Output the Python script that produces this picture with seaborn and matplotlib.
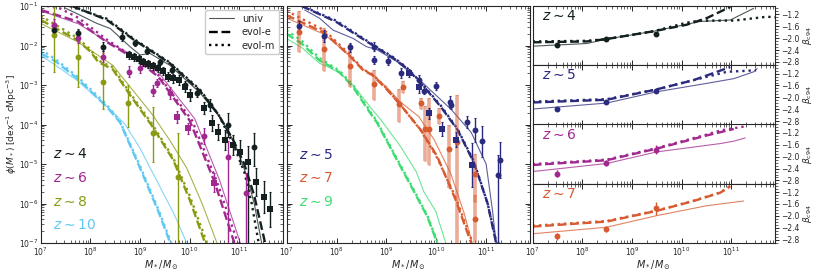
import numpy as np
import matplotlib.pyplot as plt
import matplotlib.ticker as mticker
from matplotlib.colors import to_rgba
from matplotlib.lines import Line2D
import seaborn as sns

sns.set_style("ticks")
plt.rcParams["font.family"] = ["DejaVu Sans"]
plt.rcParams["mathtext.fontset"] = "dejavusans"

# redshift colours
c4, c5, c6, c7 = "#142020", "#2a2a7e", "#a0288e", "#d85a30"
c8, c9, c10 = "#8a9a12", "#3fdc72", "#5ec8f2"

# ---- SMF model curves (log10 M, log10 phi) ----
m4_u = [7.49, 7.79, 8.13, 8.40, 8.80, 9.00, 9.20, 9.60, 10.21, 10.60, 10.90, 11.15, 11.30, 11.45]
p4_u = [-1.05, -1.23, -1.44, -1.57, -2.03, -2.24, -2.20, -2.50, -3.20, -3.80, -4.45, -5.30, -6.00, -7.00]
m4_e = [7.63, 8.33, 8.87, 9.20, 9.60, 10.21, 10.58, 10.88, 11.10, 11.30, 11.52]
p4_e = [-1.00, -1.35, -1.85, -2.12, -2.45, -3.15, -3.75, -4.40, -5.00, -5.80, -7.00]
m4_m = [7.58, 8.33, 8.87, 9.20, 9.60, 10.21, 10.58, 10.88, 11.10, 11.25, 11.39]
p4_m = [-1.00, -1.32, -1.83, -2.10, -2.43, -3.12, -3.75, -4.50, -5.20, -6.00, -7.00]

m6_u = [7.00, 7.76, 8.33, 8.94, 9.37, 10.10, 10.60, 11.02]
p6_u = [-1.12, -1.45, -1.90, -2.30, -2.68, -3.85, -5.40, -7.00]
m6_e = [7.00, 7.76, 8.33, 8.94, 9.37, 10.00, 10.50, 10.90]
p6_e = [-1.10, -1.40, -1.91, -2.37, -2.79, -3.90, -5.45, -7.00]
m6_m = [7.00, 7.39, 7.76, 8.33, 8.94, 9.37, 10.05, 10.55, 10.97]
p6_m = [-0.97, -1.06, -1.30, -1.85, -2.35, -2.75, -3.90, -5.45, -7.00]

m8_u = [7.00, 7.73, 8.16, 8.45, 8.77, 9.25, 9.60, 9.94, 10.25, 10.55]
p8_u = [-1.44, -1.90, -2.25, -2.50, -3.00, -3.75, -4.40, -5.10, -6.00, -7.00]
m8_e = [7.00, 7.73, 8.00, 8.16, 8.45, 8.77, 9.25, 9.67, 10.00, 10.31]
p8_e = [-1.35, -1.86, -2.15, -2.42, -2.60, -3.20, -4.05, -4.90, -5.90, -7.00]
m8_m = [7.00, 7.73, 8.00, 8.16, 8.45, 8.77, 9.25, 9.67, 10.00, 10.35]
p8_m = [-1.25, -1.80, -2.10, -2.38, -2.55, -3.15, -4.00, -4.85, -5.80, -7.00]

m10_u = [7.00, 7.30, 7.75, 8.20, 8.47, 8.70, 9.00, 9.37, 9.70, 9.94]
p10_u = [-2.25, -2.50, -2.90, -3.40, -3.70, -4.00, -4.60, -5.50, -6.30, -7.00]
m10_e = [7.00, 7.30, 7.75, 8.33, 8.60, 9.00, 9.37, 9.61]
p10_e = [-2.20, -2.40, -2.85, -3.55, -3.95, -5.10, -6.20, -7.00]
m10_m = [7.00, 7.30, 7.75, 8.33, 8.60, 9.00, 9.37, 9.63]
p10_m = [-2.10, -2.35, -2.80, -3.50, -3.93, -5.05, -6.15, -7.00]

m5_u = [7.36, 7.66, 7.93, 8.33, 8.60, 8.80, 9.20, 9.69, 10.30, 10.70, 11.00, 11.13, 11.20]
p5_u = [-1.10, -1.31, -1.61, -1.82, -2.03, -2.10, -2.40, -2.90, -3.62, -4.20, -5.00, -6.20, -7.00]
m5_e = [7.30, 7.99, 8.67, 9.14, 9.40, 9.69, 10.09, 10.43, 10.76, 11.03, 11.20]
p5_e = [-1.00, -1.40, -1.95, -2.32, -2.57, -2.95, -3.55, -4.14, -4.98, -6.00, -7.00]
m5_m = [7.25, 7.99, 8.67, 9.14, 9.40, 9.69, 10.09, 10.43, 10.76, 11.03, 11.21]
p5_m = [-0.97, -1.37, -1.93, -2.30, -2.55, -2.93, -3.52, -4.12, -4.95, -6.00, -7.00]

m7_u = [6.99, 7.76, 8.26, 8.53, 8.73, 9.00, 9.28, 9.65, 9.96, 10.29, 10.56, 10.72]
p7_u = [-1.30, -1.72, -2.26, -2.60, -2.74, -3.05, -3.43, -3.80, -4.39, -5.24, -6.25, -7.00]
m7_e = [6.99, 7.76, 8.26, 8.53, 8.73, 9.00, 9.28, 9.69, 10.02, 10.39, 10.70]
p7_e = [-1.23, -1.68, -2.26, -2.62, -2.76, -3.10, -3.50, -4.14, -4.81, -5.91, -7.00]
m7_m = [6.99, 7.76, 8.26, 8.53, 8.73, 9.00, 9.28, 9.69, 10.02, 10.39, 10.73]
p7_m = [-1.12, -1.62, -2.22, -2.60, -2.74, -3.08, -3.50, -4.15, -4.85, -5.85, -7.00]

m9_u = [6.99, 7.30, 7.66, 7.86, 8.06, 8.33, 8.67, 8.90, 9.28, 9.60, 9.75, 9.99, 10.19]
p9_u = [-1.82, -2.05, -2.45, -2.56, -2.70, -3.00, -3.55, -3.90, -4.55, -5.20, -5.70, -6.20, -7.00]
m9_e = [6.99, 7.30, 7.66, 7.86, 8.06, 8.33, 8.67, 8.81, 9.14, 9.47, 9.82, 10.02]
p9_e = [-1.70, -1.95, -2.38, -2.52, -2.68, -3.05, -3.70, -3.95, -4.73, -5.50, -6.33, -7.00]
m9_m = [6.99, 7.30, 7.66, 7.86, 8.06, 8.33, 8.67, 8.81, 9.14, 9.47, 9.82, 10.03]
p9_m = [-1.61, -1.88, -2.32, -2.48, -2.64, -3.00, -3.66, -3.92, -4.70, -5.47, -6.30, -7.00]

# ---- SMF observations ----
m4c = [7.26, 7.75, 8.26, 8.63, 8.90, 9.14, 9.41, 9.64, 9.91, 10.15, 10.41, 10.78, 11.29]
p4c = [-1.61, -1.69, -2.03, -1.78, -1.93, -2.13, -2.41, -2.62, -3.00, -3.19, -3.51, -4.01, -4.56]
e4c_lo = [0.12, 0.12, 0.12, 0.10, 0.08, 0.08, 0.08, 0.08, 0.10, 0.12, 0.15, 0.30, 0.50]
e4c_hi = [0.12, 0.12, 0.12, 0.10, 0.08, 0.08, 0.08, 0.08, 0.10, 0.12, 0.15, 0.30, 0.35]
m4s = [8.77, 8.87, 8.97, 9.07, 9.17, 9.27, 9.37, 9.47, 9.57, 9.67, 9.78, 9.91, 10.01,
       10.28, 10.45, 10.58, 10.72, 10.88, 11.02, 11.17, 11.34, 11.49, 11.62]
p4s = [-2.24, -2.28, -2.35, -2.41, -2.47, -2.52, -2.58, -2.64, -2.79, -2.83, -2.87, -3.06, -3.25,
       -3.58, -3.97, -4.18, -4.39, -4.52, -4.69, -4.94, -5.45, -5.83, -6.15]
e4s_lo = [0.10, 0.10, 0.10, 0.10, 0.10, 0.10, 0.10, 0.10, 0.12, 0.12, 0.12, 0.12, 0.15,
          0.15, 0.20, 0.20, 0.25, 0.25, 0.30, 2.50, 0.35, 0.40, 0.45]
e4s_hi = [0.10, 0.10, 0.10, 0.10, 0.10, 0.10, 0.10, 0.10, 0.12, 0.12, 0.12, 0.12, 0.15,
          0.15, 0.20, 0.20, 0.25, 0.25, 0.30, 0.40, 0.35, 0.40, 0.45]

m6c = [7.26, 7.76, 8.26, 8.77, 8.99, 9.27, 9.34, 9.61, 10.28, 10.78, 11.14]
p6c = [-1.48, -1.82, -2.28, -2.66, -2.58, -3.14, -2.96, -3.20, -4.29, -4.83, -5.74]
e6c_lo = [0.15, 0.12, 0.15, 0.15, 0.12, 0.15, 0.10, 0.15, 0.20, 2.50, 2.00]
e6c_hi = [0.15, 0.12, 0.15, 0.15, 0.12, 0.15, 0.10, 0.15, 0.20, 0.40, 0.50]
m6s = [9.74, 9.96, 10.49]
p6s = [-3.80, -4.10, -5.47]
e6s = [0.15, 0.15, 0.25]

m8c = [7.26, 7.76, 8.26, 8.76, 9.26, 9.76]
p8c = [-1.73, -2.30, -2.92, -3.46, -4.22, -5.32]
e8c_lo = [0.93, 0.74, 0.68, 0.60, 0.72, 2.00]
e8c_hi = [0.71, 0.69, 0.72, 0.45, 0.67, 1.10]

m5c = [7.25, 7.74, 8.26, 8.75, 8.76, 9.04, 9.30, 9.65, 9.76, 9.99, 10.28, 10.30,
       10.61, 10.78, 10.92, 11.23, 11.28]
p5c = [-1.51, -1.76, -2.05, -2.03, -2.37, -2.39, -2.70, -2.87, -3.14, -3.02, -3.43, -3.51,
       -3.93, -4.14, -4.43, -5.28, -4.90]
e5c_lo = [0.12, 0.15, 0.12, 0.12, 0.10, 0.10, 0.12, 0.12, 0.10, 0.10, 0.15, 0.10,
          0.15, 0.30, 0.40, 1.70, 0.45]
e5c_hi = [0.12, 0.15, 0.12, 0.12, 0.10, 0.10, 0.12, 0.12, 0.10, 0.10, 0.15, 0.10,
          0.15, 0.30, 0.40, 0.50, 0.45]
m5s = [9.45, 9.65, 9.86, 10.11, 10.39, 10.71]
p5s = [-2.70, -3.06, -3.72, -4.12, -4.38, -5.03]
e5s = [0.10, 0.15, 0.15, 0.18, 0.20, 0.55]

m7c = [7.25, 7.74, 8.26, 8.76, 9.26, 9.34, 9.70, 9.77, 9.86, 10.06, 10.26, 10.41, 10.78, 10.78]
p7c = [-1.67, -2.10, -2.51, -2.98, -3.49, -3.04, -3.45, -4.12, -4.12, -3.78, -4.62, -4.45, -5.25, -6.38]
e7c_lo = [0.50, 0.55, 0.55, 0.40, 0.45, 0.15, 0.15, 0.80, 0.90, 0.20, 1.00, 2.60, 0.70, 0.60]
e7c_hi = [0.55, 0.55, 0.55, 0.35, 0.40, 0.15, 0.12, 0.60, 0.80, 0.20, 0.60, 1.20, 0.50, 0.60]

# ---- UV slope panels ----
mb_obs = [7.48, 8.48, 9.48]
b4_obs, b4_err = [-2.24, -2.03, -1.86], [0.03, 0.03, 0.03]
b5_obs, b5_err = [-2.39, -2.16, -1.77], [0.08, 0.05, 0.05]
b6_obs, b6_err = [-2.58, -2.20, -1.76], [0.12, 0.10, 0.15]
b7_obs, b7_err = [-2.69, -2.44, -1.75], [0.12, 0.10, 0.22]

mb4_u, b4_u = [7.0, 8.09, 8.49, 9.43, 10.37, 10.98, 11.45], [-2.27, -2.18, -2.03, -1.77, -1.44, -1.39, -1.00]
mb4_e, b4_e = [7.0, 8.09, 8.49, 9.43, 10.10, 10.50, 10.98], [-2.14, -2.11, -2.03, -1.77, -1.55, -1.33, -0.95]
mb4_m, b4_m = [7.0, 8.09, 8.49, 9.43, 10.10, 10.37, 11.05, 11.72, 11.89], [-2.11, -2.09, -2.03, -1.77, -1.48, -1.41, -1.41, -1.28, -1.30]
mb5_u, b5_u = [7.0, 8.49, 9.50, 10.50, 11.05, 11.45, 11.52], [-2.39, -2.19, -1.81, -1.53, -1.37, -1.14, -1.03]
mb5_e, b5_e = [7.0, 8.49, 9.50, 10.24, 10.98], [-2.17, -2.08, -1.73, -1.42, -0.98]
mb5_m, b5_m = [7.0, 8.49, 9.50, 10.24, 10.91, 11.50], [-2.14, -2.06, -1.73, -1.42, -1.14, -1.09]
mb6_u, b6_u = [7.0, 8.49, 9.50, 10.78, 11.05, 11.28], [-2.50, -2.23, -1.84, -1.56, -1.48, -1.37]
mb6_e, b6_e = [7.0, 8.49, 9.50, 10.50, 11.05], [-2.28, -2.12, -1.73, -1.29, -1.07]
mb6_m, b6_m = [7.0, 8.49, 9.50, 10.50, 10.78, 11.25], [-2.25, -2.10, -1.71, -1.26, -1.12, -0.99]
mb7_u, b7_u = [7.0, 8.49, 9.50, 10.50, 11.25], [-2.60, -2.38, -1.99, -1.66, -1.50]
mb7_e, b7_e = [7.0, 8.49, 9.50, 10.24, 10.78, 10.98], [-2.36, -2.19, -1.83, -1.50, -1.22, -1.00]
mb7_m, b7_m = [7.0, 8.49, 9.50, 10.24, 10.78, 10.98], [-2.33, -2.17, -1.82, -1.49, -1.21, -1.00]


W, H = 814, 274
fig = plt.figure(figsize=(W / 100, H / 100), dpi=100)


def add_ax(x0, y0, x1, y1):
    return fig.add_axes([x0 / W, 1 - y1 / H, (x1 - x0) / W, (y1 - y0) / H])


def curves(ax, col, mu, pu, me, pe, mm, pm, logy=True):
    f = (lambda v: 10 ** np.array(v)) if logy else (lambda v: np.array(v))
    sns.lineplot(x=10 ** np.array(mu), y=f(pu), ax=ax, color=col, lw=0.8, alpha=0.75,
                 sort=False, estimator=None)
    sns.lineplot(x=10 ** np.array(me), y=f(pe), ax=ax, color=col, lw=1.7, linestyle="--",
                 sort=False, estimator=None)
    sns.lineplot(x=10 ** np.array(mm), y=f(pm), ax=ax, color=col, lw=1.7, linestyle=":",
                 sort=False, estimator=None)


def points(ax, col, m, p, lo, hi, marker="o", thick=False):
    m, p, lo, hi = map(np.array, (m, p, lo, hi))
    y = 10 ** p
    yerr = [y - 10 ** (p - lo), 10 ** (p + hi) - y]
    ecol = to_rgba(col, 0.5) if thick else col
    ax.errorbar(10 ** m, y, yerr=yerr, fmt="none", ecolor=ecol,
                elinewidth=2.6 if thick else 1.0, capsize=1.0, capthick=0.8, zorder=4)
    sns.scatterplot(x=10 ** m, y=y, ax=ax, color=col, marker=marker, s=18,
                    edgecolor=col, linewidth=0, zorder=5)


def style_smf(ax):
    ax.set_xscale("log")
    ax.set_yscale("log")
    ax.set_xlim(1e7, 10 ** 11.88)
    ax.set_ylim(1e-7, 1e-1)
    ax.tick_params(which="both", direction="in", top=True, right=True, labelsize=5.5, pad=2)
    ax.tick_params(which="major", length=3.5, width=0.7)
    ax.tick_params(which="minor", length=2, width=0.5)
    ax.set_xlabel(r"$M_*/M_\odot$", fontsize=7, labelpad=0)
    for s in ax.spines.values():
        s.set_linewidth(0.8)


# ---- panel 1: z = 4, 6, 8, 10 ----
ax1 = add_ax(40.7, 6, 283, 243)
curves(ax1, c10, m10_u, p10_u, m10_e, p10_e, m10_m, p10_m)
curves(ax1, c8, m8_u, p8_u, m8_e, p8_e, m8_m, p8_m)
curves(ax1, c6, m6_u, p6_u, m6_e, p6_e, m6_m, p6_m)
curves(ax1, c4, m4_u, p4_u, m4_e, p4_e, m4_m, p4_m)
points(ax1, c8, m8c, p8c, e8c_lo, e8c_hi)
points(ax1, c6, m6c, p6c, e6c_lo, e6c_hi)
points(ax1, c6, m6s, p6s, e6s, e6s, marker="s")
points(ax1, c4, m4s, p4s, e4s_lo, e4s_hi, marker="s")
points(ax1, c4, m4c, p4c, e4c_lo, e4c_hi)
style_smf(ax1)
ax1.set_ylabel(r"$\phi(M_*)$ [dex$^{-1}$ cMpc$^{-3}$]", fontsize=6.5, labelpad=0)
for lab, col, yy in [(r"$z \sim 4$", c4, 0.376), (r"$z \sim 6$", c6, 0.274),
                     (r"$z \sim 8$", c8, 0.173), (r"$z \sim 10$", c10, 0.076)]:
    ax1.text(0.05, yy, lab, transform=ax1.transAxes, color=col, fontsize=10, va="center")
handles = [Line2D([], [], color="#555555", lw=0.8),
           Line2D([], [], color="k", lw=1.7, linestyle="--"),
           Line2D([], [], color="k", lw=1.7, linestyle=":")]
ax1.legend(handles, ["univ", "evol-e", "evol-m"], loc="upper right", fontsize=7,
           handlelength=2.6, borderpad=0.4, labelspacing=0.35, framealpha=1,
           edgecolor="#cccccc", borderaxespad=0.4)

# ---- panel 2: z = 5, 7, 9 ----
ax2 = add_ax(286.7, 6, 530, 243)
curves(ax2, c9, m9_u, p9_u, m9_e, p9_e, m9_m, p9_m)
curves(ax2, c7, m7_u, p7_u, m7_e, p7_e, m7_m, p7_m)
curves(ax2, c5, m5_u, p5_u, m5_e, p5_e, m5_m, p5_m)
points(ax2, c7, m7c, p7c, e7c_lo, e7c_hi, thick=True)
points(ax2, c5, m5s, p5s, e5s, e5s, marker="s")
points(ax2, c5, m5c, p5c, e5c_lo, e5c_hi)
style_smf(ax2)
ax2.tick_params(which="both", labelleft=False)
for lab, col, yy in [(r"$z \sim 5$", c5, 0.372), (r"$z \sim 7$", c7, 0.274),
                     (r"$z \sim 9$", c9, 0.173)]:
    ax2.text(0.05, yy, lab, transform=ax2.transAxes, color=col, fontsize=10, va="center")

# ---- panel 3: beta_UV vs mass ----
rows = [(c4, r"$z \sim 4$", mb4_u, b4_u, mb4_e, b4_e, mb4_m, b4_m, b4_obs, b4_err),
        (c5, r"$z \sim 5$", mb5_u, b5_u, mb5_e, b5_e, mb5_m, b5_m, b5_obs, b5_err),
        (c6, r"$z \sim 6$", mb6_u, b6_u, mb6_e, b6_e, mb6_m, b6_m, b6_obs, b6_err),
        (c7, r"$z \sim 7$", mb7_u, b7_u, mb7_e, b7_e, mb7_m, b7_m, b7_obs, b7_err)]
row_h = (243 - 6) / 4
for i, (col, lab, mu, bu, me, be, mm, bm, bo, berr) in enumerate(rows):
    ax = add_ax(532.7, 6 + i * row_h, 775, 6 + (i + 1) * row_h)
    curves(ax, col, mu, bu, me, be, mm, bm, logy=False)
    ax.errorbar(10 ** np.array(mb_obs), bo, yerr=berr, fmt="none", ecolor=col,
                elinewidth=1.0, capsize=0, zorder=4)
    sns.scatterplot(x=10 ** np.array(mb_obs), y=bo, ax=ax, color=col, s=18,
                    linewidth=0, zorder=5)
    ax.set_xscale("log")
    ax.set_xlim(1e7, 10 ** 11.88)
    ax.set_ylim(-2.91, -0.92)
    ax.yaxis.tick_right()
    ax.yaxis.set_label_position("right")
    ax.yaxis.set_major_locator(mticker.MultipleLocator(0.4))
    ax.yaxis.set_minor_locator(mticker.MultipleLocator(0.1))
    ax.set_ylabel(r"$\beta_{\rm c94}$", fontsize=6.5, labelpad=1)
    ax.tick_params(axis="y", which="both", direction="out", labelsize=5.5, pad=1.5)
    ax.tick_params(axis="y", which="major", length=3, width=0.7)
    ax.tick_params(axis="y", which="minor", length=1.8, width=0.5)
    ax.tick_params(axis="x", which="both", direction="in", top=True, labelsize=5.5, pad=2)
    ax.tick_params(axis="x", which="major", length=3.5, width=0.7)
    ax.tick_params(axis="x", which="minor", length=2, width=0.5)
    ax.text(0.04, 0.83, lab, transform=ax.transAxes, color=col, fontsize=10, va="center")
    for s in ax.spines.values():
        s.set_linewidth(0.8)
    if i < 3:
        ax.tick_params(axis="x", labelbottom=False)
        ax.set_xlabel("")
    else:
        ax.set_xlabel(r"$M_*/M_\odot$", fontsize=7, labelpad=0)

fig.savefig("out.png", dpi=100)
